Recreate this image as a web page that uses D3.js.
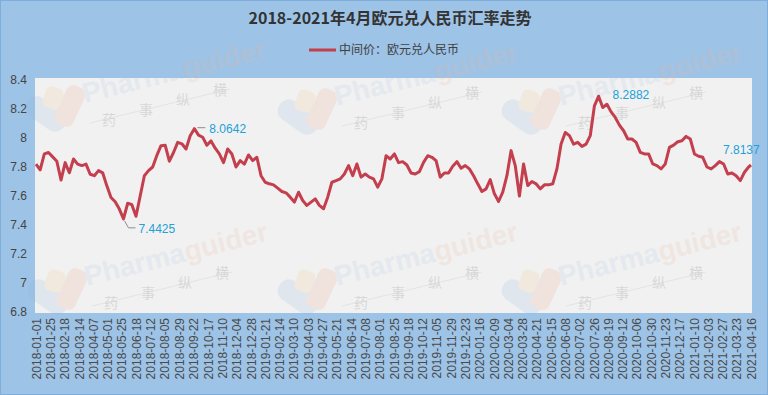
<!DOCTYPE html>
<html>
<head>
<meta charset="utf-8">
<script src="https://cdn.jsdelivr.net/npm/d3@7"></script>
<style>
  body { margin: 0; background: #9dc3e6; }
  svg { display: block; font-family: "Liberation Sans", Arial, sans-serif; }
</style>
</head>
<body>
<svg width="768" height="395"></svg>
<script>
// weekly readings of the EUR/CNY central parity, first one on startDate
const startDate = "2018-01-01";
const weekValues = [
  7.82, 7.78, 7.89, 7.90, 7.87, 7.84, 7.71, 7.83, 7.76, 7.855,
  7.82, 7.81, 7.82, 7.75, 7.74, 7.775, 7.76, 7.67, 7.59, 7.56,
  7.51, 7.4425, 7.55, 7.54, 7.46, 7.60, 7.74, 7.775, 7.80, 7.88,
  7.947, 7.95, 7.84, 7.90, 7.97, 7.96, 7.924, 8.016, 8.0642, 8.02,
  8.005, 7.95, 7.98, 7.93, 7.89, 7.83, 7.924, 7.89, 7.80, 7.844,
  7.82, 7.883, 7.844, 7.867, 7.74, 7.695, 7.684, 7.677, 7.654, 7.631,
  7.622, 7.592, 7.558, 7.626, 7.569, 7.535, 7.558, 7.58, 7.535, 7.512,
  7.592, 7.695, 7.706, 7.718, 7.752, 7.81, 7.74, 7.821, 7.73, 7.752,
  7.73, 7.718, 7.661, 7.718, 7.878, 7.855, 7.89, 7.83, 7.837, 7.814,
  7.759, 7.752, 7.768, 7.832, 7.878, 7.867, 7.844, 7.73, 7.759, 7.759,
  7.805, 7.837, 7.791, 7.81, 7.787, 7.74, 7.684, 7.631, 7.649, 7.713,
  7.615, 7.562, 7.626, 7.74, 7.913, 7.81, 7.60, 7.821, 7.672, 7.70,
  7.684, 7.649, 7.677, 7.677, 7.684, 7.787, 7.958, 8.038, 8.016, 7.958,
  7.97, 7.942, 7.958, 8.016, 8.222, 8.2882, 8.21, 8.233, 8.18, 8.142,
  8.089, 8.05, 7.993, 7.993, 7.97, 7.901, 7.89, 7.89, 7.821, 7.81,
  7.787, 7.821, 7.935, 7.951, 7.974, 7.981, 8.011, 7.993, 7.89, 7.874,
  7.867, 7.80, 7.787, 7.81, 7.837, 7.821, 7.752, 7.759, 7.74, 7.706,
  7.764, 7.80
];
const lastDate = "2021-04-16";
const lastValue = 7.8137;

// points that carry a value label (index into the series)
const noteIndex = [38, 21, 135, 172];

const tickLabels = [
  "2018-01-01", "2018-01-25", "2018-02-18", "2018-03-14", "2018-04-07", "2018-05-01",
  "2018-05-25", "2018-06-18", "2018-07-12", "2018-08-05", "2018-08-29", "2018-09-22",
  "2018-10-17", "2018-11-10", "2018-12-04", "2018-12-28", "2019-01-21", "2019-02-14",
  "2019-03-10", "2019-04-03", "2019-04-27", "2019-05-21", "2019-06-14", "2019-07-08",
  "2019-08-01", "2019-08-25", "2019-09-18", "2019-10-12", "2019-11-05", "2019-11-29",
  "2019-12-23", "2020-01-16", "2020-02-09", "2020-03-04", "2020-03-28", "2020-04-21",
  "2020-05-15", "2020-06-08", "2020-07-02", "2020-07-26", "2020-08-19", "2020-09-12",
  "2020-10-06", "2020-10-30", "2020-11-23", "2020-12-17", "2021-01-10", "2021-02-03",
  "2021-02-27", "2021-03-23", "2021-04-16"
];
const yTicks = [6.8, 7, 7.2, 7.4, 7.6, 7.8, 8, 8.2, 8.4];

const title = "2018-2021年4月欧元兑人民币汇率走势";
const seriesName = "中间价：欧元兑人民币";

const width = 768, height = 395;
const plot = { left: 35, right: 752, top: 78, bottom: 313 };
const lineColor = "#c43f4d";
const noteColor = "#22a0d8";

const parse = d3.timeParse("%Y-%m-%d");
const start = parse(startDate);
const series = weekValues.map((v, i) => ({ date: d3.timeDay.offset(start, 7 * i), value: v }));
series.push({ date: parse(lastDate), value: lastValue });

const x = d3.scaleTime()
  .domain([start, parse(lastDate)])
  .range([36, 751]);

const y = d3.scaleLinear()
  .domain([6.8, 8.4])
  .range([312, 80]);

const svg = d3.select("svg");

// chart area + border
svg.append("rect")
  .attr("x", 0.5).attr("y", 0.5)
  .attr("width", width - 1).attr("height", height - 1)
  .attr("fill", "#9dc3e6")
  .attr("stroke", "#7eafdc");

// plot area
svg.append("rect")
  .attr("x", plot.left).attr("y", plot.top)
  .attr("width", plot.right - plot.left)
  .attr("height", plot.bottom - plot.top)
  .attr("fill", "#f1f1f1");

// title
svg.append("text")
  .attr("x", 390).attr("y", 24)
  .attr("text-anchor", "middle")
  .attr("font-family", "'Noto Sans CJK SC', sans-serif")
  .attr("font-weight", "bold")
  .attr("font-size", 16)
  .attr("fill", "#333")
  .text(title);

// legend
const legend = svg.append("g").attr("transform", "translate(309,50)");
legend.append("line")
  .attr("x1", 0).attr("x2", 27)
  .attr("stroke", lineColor).attr("stroke-width", 3);
legend.append("text")
  .attr("x", 30).attr("dy", "0.35em")
  .attr("font-family", "'Noto Sans CJK SC', sans-serif")
  .attr("font-size", 12)
  .attr("fill", "#404040")
  .text(seriesName);

// y axis
const yAxis = svg.append("g")
  .attr("transform", `translate(${plot.left}, 0)`)
  .call(d3.axisLeft(y).tickValues(yTicks).tickSize(0).tickPadding(8)
    .tickFormat(d => String(+d.toFixed(1))));
yAxis.select(".domain").remove();
yAxis.selectAll("text")
  .attr("font-size", 12)
  .attr("font-family", "'Liberation Sans', Arial, sans-serif")
  .attr("fill", "#444");

// x axis, vertical date labels
const xAxis = svg.append("g")
  .attr("transform", `translate(0, ${plot.bottom})`)
  .call(d3.axisBottom(x).tickValues(tickLabels.map(parse)).tickSize(0)
    .tickFormat(d3.timeFormat("%Y-%m-%d")));
xAxis.select(".domain").remove();
xAxis.selectAll("text")
  .attr("font-size", 12)
  .attr("font-family", "'Liberation Sans', Arial, sans-serif")
  .attr("fill", "#4a4a4a")
  .attr("text-anchor", "end")
  .attr("transform", "rotate(-90)")
  .attr("x", -5)
  .attr("y", 0)
  .attr("dy", "0.35em");

// faint "Pharmaguider 药事纵横" watermarks
const marks = [[30, 85], [282, 88], [506, 88], [32, 268], [282, 268], [506, 268]];
marks.forEach(([mx, my]) => {
  const g = svg.append("g")
    .attr("transform", `translate(${mx},${my})`)
    .attr("opacity", 0.18)
    .style("pointer-events", "none");
  g.append("rect").attr("x", -6).attr("y", 18).attr("width", 44).attr("height", 22)
    .attr("rx", 10).attr("fill", "#8fb6dc").attr("transform", "rotate(35,16,29)");
  g.append("rect").attr("x", 14).attr("y", 2).attr("width", 18).attr("height", 22)
    .attr("rx", 6).attr("fill", "#f2c98a").attr("transform", "rotate(20,23,13)");
  g.append("rect").attr("x", 30).attr("y", 0).attr("width", 20).attr("height", 42)
    .attr("rx", 7).attr("fill", "#eeaa8c").attr("transform", "rotate(25,40,21)");
  const t = g.append("text")
    .attr("transform", "translate(55,18) rotate(-14)")
    .attr("font-size", 28).attr("font-weight", "bold");
  t.append("tspan").attr("fill", "#a9c7e6").text("Pharma");
  t.append("tspan").attr("fill", "#f0b79c").text("guider");
  g.append("line")
    .attr("x1", 60).attr("y1", 38).attr("x2", 200).attr("y2", 4)
    .attr("stroke", "#aaaaaa").attr("stroke-width", 1);
  ["药", "事", "纵", "横"].forEach((c, i) => {
    g.append("text")
      .attr("x", 72 + i * 37).attr("y", 40 - i * 10)
      .attr("font-family", "'Noto Sans CJK SC', sans-serif")
      .attr("font-size", 14)
      .attr("fill", "#666")
      .text(c);
  });
});

// series line
const line = d3.line()
  .x(d => x(d.date))
  .y(d => y(d.value));

svg.append("path")
  .datum(series)
  .attr("fill", "none")
  .attr("stroke", lineColor)
  .attr("stroke-width", 3)
  .attr("stroke-linejoin", "round")
  .attr("d", line);

// value labels with short leader lines
const noteStyle = [
  { dx: 15, dy: 0, leader: [[3, -1], [11, -1]] },
  { dx: 15, dy: 10, leader: [[1, 2], [5, 9], [12, 9]] },
  { dx: 14, dy: -1, leader: null },
  { dx: -28, dy: -15, leader: null }
];
noteIndex.forEach((idx, k) => {
  const d = series[idx];
  const px = x(d.date), py = y(d.value);
  const s = noteStyle[k];
  if (s.leader) {
    svg.append("path")
      .attr("d", d3.line()(s.leader.map(p => [px + p[0], py + p[1]])))
      .attr("fill", "none")
      .attr("stroke", "#8c8c8c")
      .attr("stroke-width", 1);
  }
  svg.append("text")
    .attr("x", px + s.dx).attr("y", py + s.dy)
    .attr("dy", "0.35em")
    .attr("font-size", 12)
    .attr("fill", noteColor)
    .text(d.value.toFixed(4));
});
</script>
</body>
</html>
